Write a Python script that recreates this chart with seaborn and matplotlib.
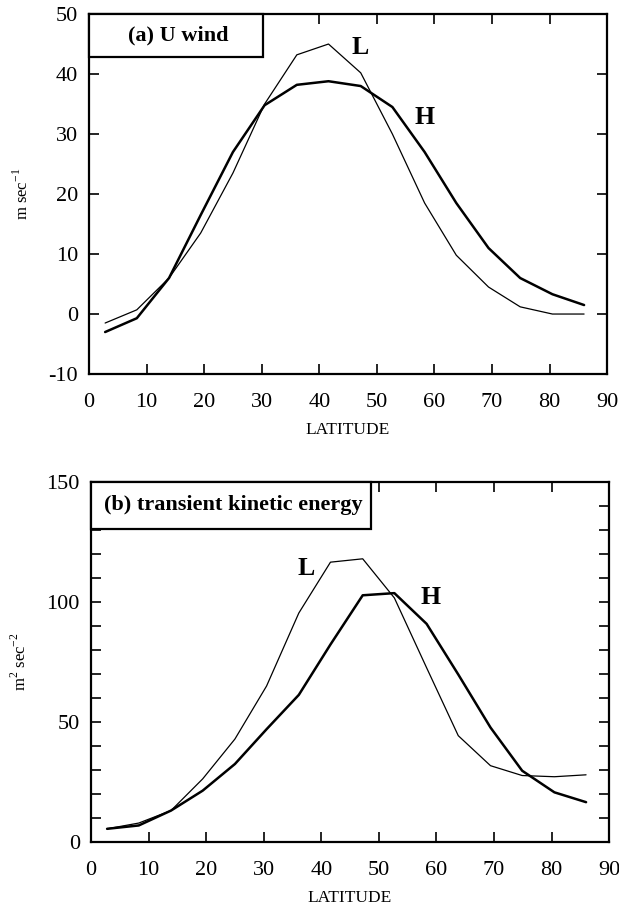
import numpy as np
import pandas as pd
import matplotlib
matplotlib.use("Agg")
import matplotlib.pyplot as plt
import seaborn as sns
from matplotlib.patches import Rectangle
from matplotlib.ticker import MultipleLocator

latitude = [2.8, 8.3, 13.9, 19.4, 25.0, 30.5, 36.1, 41.6, 47.2, 52.7, 58.3, 63.8, 69.4, 74.9, 80.5, 86.0]
u_L = [-1.5, 0.7, 6.0, 13.5, 23.5, 35.0, 43.2, 45.0, 40.2, 30.0, 18.5, 9.8, 4.5, 1.2, 0.0, 0.0]
u_H = [-3.0, -0.7, 6.0, 16.5, 27.0, 34.8, 38.2, 38.8, 38.0, 34.5, 27.0, 18.5, 11.0, 6.0, 3.3, 1.5]
tke_L = [5.5, 7.9, 13.1, 26.3, 42.9, 65.0, 95.4, 116.6, 118.0, 101.7, 72.6, 44.3, 31.8, 27.7, 27.2, 28.0]
tke_H = [5.5, 6.9, 13.1, 21.4, 32.5, 47.0, 61.3, 82.3, 102.8, 103.7, 90.9, 69.8, 47.7, 29.7, 20.7, 16.6]

sns.set_theme(style="ticks")
plt.rcParams['font.family'] = ['Liberation Serif', 'DejaVu Serif']
plt.rcParams['mathtext.fontset'] = 'custom'
plt.rcParams['mathtext.rm'] = 'Liberation Serif'
plt.rcParams['axes.unicode_minus'] = False
plt.rcParams['text.color'] = 'black'
plt.rcParams['axes.labelcolor'] = 'black'

fig = plt.figure(figsize=(6.19, 9.05), dpi=100)
ax1 = fig.add_axes([0.1438, 0.5867, 0.837, 0.3978])
ax2 = fig.add_axes([0.147, 0.0696, 0.837, 0.3978])

def panel(ax, L, H, ylim, major, minor, ylabel, title, boxw, boxh, Lpos, Hpos):
    df = pd.DataFrame({"lat": latitude * 2, "val": L + H,
                       "run": ["L"] * len(L) + ["H"] * len(H)})
    sns.lineplot(data=df, x="lat", y="val", hue="run", size="run",
                 sizes={"L": 0.9, "H": 1.8}, palette={"L": "black", "H": "black"},
                 legend=False, ax=ax, estimator=None)
    ax.set_xlim(0, 90)
    ax.set_ylim(*ylim)
    ax.xaxis.set_major_locator(MultipleLocator(10))
    ax.yaxis.set_major_locator(MultipleLocator(major))
    if minor:
        ax.yaxis.set_minor_locator(MultipleLocator(minor))
        ax.tick_params(axis='y', which='minor', direction='in', left=True, right=True,
                       length=7, width=1.2, color='black')
    ax.tick_params(axis='x', which='major', pad=14)
    ax.tick_params(axis='y', which='major', pad=8)
    ax.tick_params(axis='both', which='major', direction='in', top=True, right=True,
                   length=7, width=1.2, labelsize=16, color='black', labelcolor='black')
    for s in ax.spines.values():
        s.set_linewidth(1.6)
        s.set_color('black')
    ax.set_xlabel("LATITUDE", fontsize=12.5, labelpad=7, color='black')
    ax.set_ylabel(ylabel, fontsize=12, labelpad=12, color='black')
    ax.add_patch(Rectangle((0, 1 - boxh), boxw, boxh, transform=ax.transAxes,
                           facecolor='white', edgecolor='black', linewidth=1.6,
                           clip_on=False, zorder=5))
    ax.text(boxw / 2 + 0.005, 1 - boxh / 2, title, transform=ax.transAxes,
            ha='center', va='center', fontsize=16, fontweight='bold', zorder=6)
    ax.text(Lpos[0], Lpos[1], "L", ha='center', va='center', fontsize=18.5, fontweight='bold')
    ax.text(Hpos[0], Hpos[1], "H", ha='center', va='center', fontsize=18.5, fontweight='bold')

panel(ax1, u_L, u_H, (-10, 50), 10, None, r"m sec$^{-1}$", "(a) U wind",
      0.336, 0.12, (47.1, 44.5), (58.2, 32.7))
panel(ax2, tke_L, tke_H, (0, 150), 50, 10, r"m$^{2}$ sec$^{-2}$", "(b) transient kinetic energy",
      0.54, 0.13, (37.3, 114), (58.9, 101.7))

fig.savefig("out.png", dpi=100)
